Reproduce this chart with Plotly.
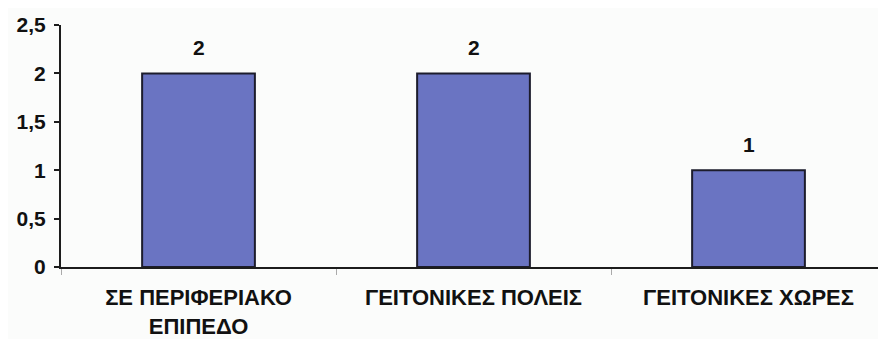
import plotly.graph_objects as go

categories = ["ΣΕ ΠΕΡΙΦΕΡΙΑΚΟ<br>ΕΠΙΠΕΔΟ", "ΓΕΙΤΟΝΙΚΕΣ ΠΟΛΕΙΣ", "ΓΕΙΤΟΝΙΚΕΣ ΧΩΡΕΣ"]
values = [2, 2, 1]
y_ticks = [0, 0.5, 1, 1.5, 2, 2.5]
y_tick_labels = ["0", "0,5", "1", "1,5", "2", "2,5"]

font_family = "Liberation Sans, Arial, sans-serif"

fig = go.Figure()
fig.add_trace(go.Bar(
    x=categories,
    y=values,
    width=0.41,
    marker=dict(color="#6a74c2", line=dict(color="#1c1c2c", width=2)),
    showlegend=False,
    hoverinfo="x+y",
))

for c, v in zip(categories, values):
    fig.add_annotation(
        x=c, y=v, text=f"<b>{v}</b>", showarrow=False,
        yshift=26, font=dict(family=font_family, size=21, color="#111111"),
    )

fig.update_layout(
    width=878, height=331,
    margin=dict(l=53, r=0, t=17, b=72, autoexpand=False),
    paper_bgcolor="#fbfcfb",
    plot_bgcolor="#fbfcfb",
    font=dict(family=font_family, size=20, color="#111111"),
    bargap=0.59,
)
fig.update_xaxes(
    type="category",
    automargin=False,
    showline=True, linecolor="#1c1c1c", linewidth=2,
    ticks="outside", tickson="boundaries", ticklen=6, tickcolor="#aaaaaa",
    showgrid=False,
    tickfont=dict(family=font_family, size=22, color="#111111"),
    tickangle=0,
    ticklabelstandoff=10,
    tickvals=categories,
    ticktext=[f"<b>{c}</b>" for c in categories],
)
fig.update_yaxes(
    automargin=False,
    range=[0, 2.5],
    tickvals=y_ticks, ticktext=[f"<b>{t}</b>" for t in y_tick_labels],
    showline=True, linecolor="#1c1c1c", linewidth=2,
    ticks="outside", ticklen=5, tickcolor="#1c1c1c", tickwidth=2,
    showgrid=False, zeroline=False,
    ticklabelstandoff=4,
    tickfont=dict(family=font_family, size=21, color="#111111"),
)

fig.write_html("out.html")
